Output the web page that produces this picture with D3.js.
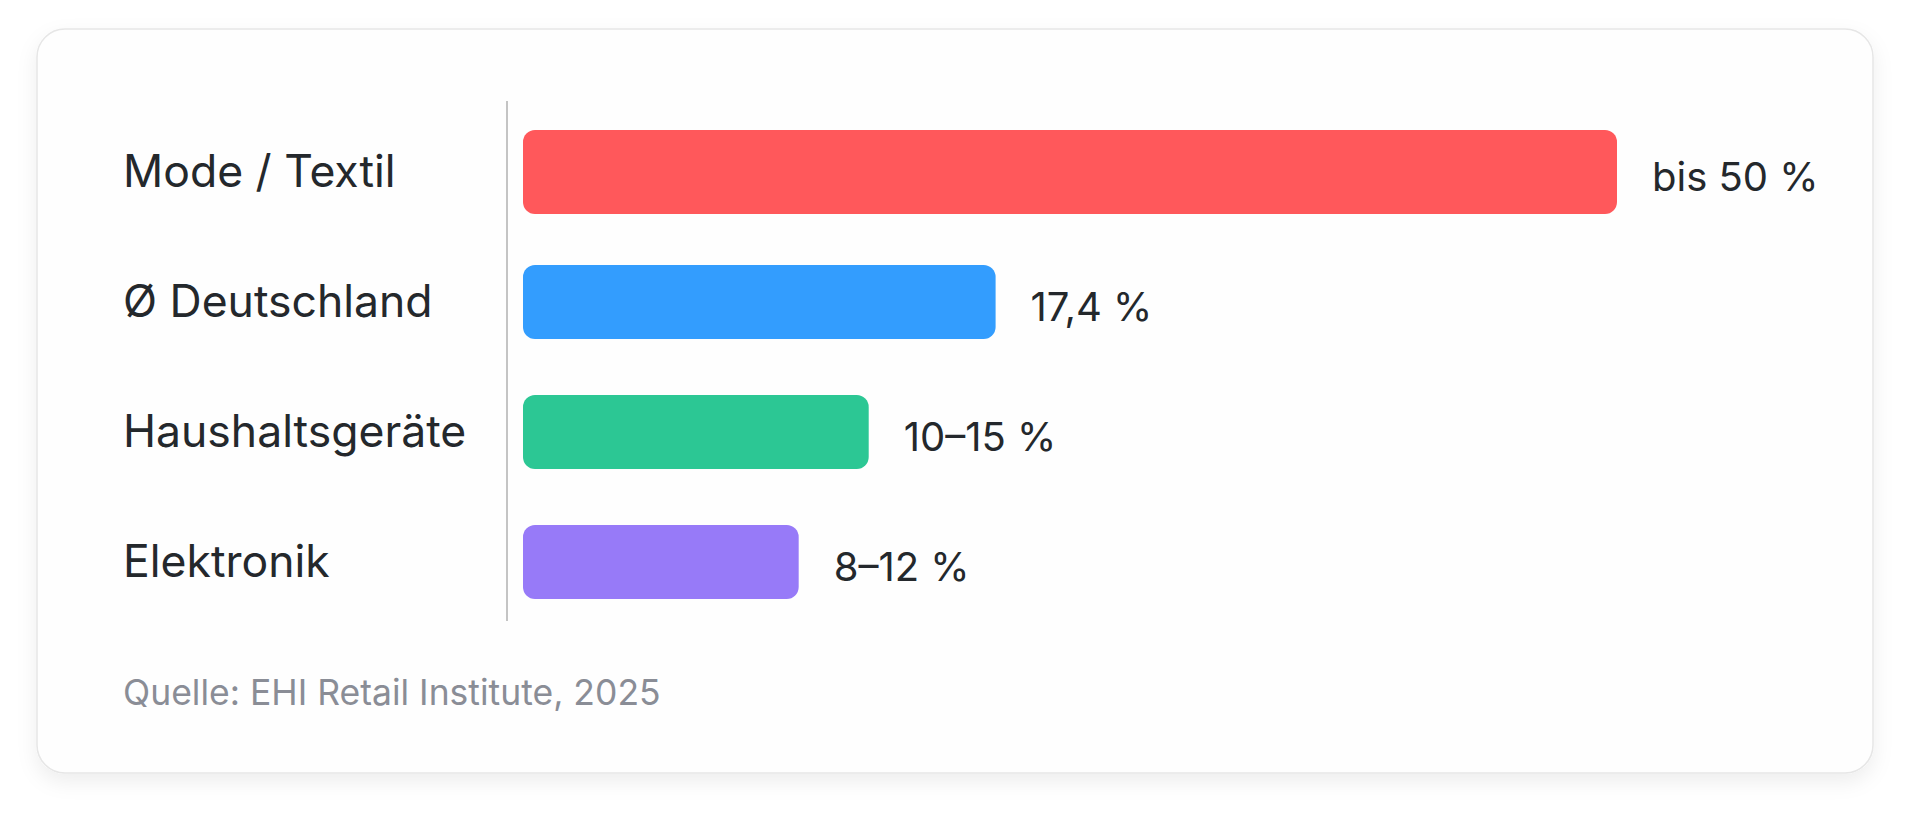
<!DOCTYPE html>
<head>
    <meta charset="utf-8">
    <title>Retourenquoten nach Branche</title>
    <style>
        html, body { margin: 0; padding: 0; background: #ffffff; }
        svg { display: block; font-family: Inter, "Noto Sans", sans-serif; }
    </style>
</head>
<body>

<svg width="1916" height="821"></svg>

<script src="https://cdn.jsdelivr.net/npm/d3@7"></script>

<script>

    // Categories, bar lengths and the printed labels
    const categories = ["Mode / Textil", "Ø Deutschland", "Haushaltsgeräte", "Elektronik"];
    const values = [50, 21.6, 15.8, 12.6];
    const valueLabels = ["bis 50 %", "17,4 %", "10–15 %", "8–12 %"];
    const colors = ["#ff585b", "#339dfe", "#2cc794", "#977af8"];
    const source = "Quelle: EHI Retail Institute, 2025";

    const svg = d3.select("svg");

    const defs = svg.append("defs");
    const shadow = defs.append("filter")
        .attr("id", "shadow")
        .attr("x", "-10%").attr("y", "-10%")
        .attr("width", "120%").attr("height", "130%");
    shadow.append("feDropShadow")
        .attr("dx", 0).attr("dy", 8)
        .attr("stdDeviation", 10)
        .attr("flood-color", "#000")
        .attr("flood-opacity", 0.07);

    // Card behind the chart
    svg.append("rect")
        .attr("x", 37).attr("y", 29)
        .attr("width", 1836).attr("height", 744)
        .attr("rx", 28)
        .attr("fill", "#fefefe")
        .attr("stroke", "#e6e6e6")
        .attr("stroke-width", 1.5)
        .attr("filter", "url(#shadow)");

    const x = d3.scaleLinear()
        .domain([0, 50])
        .range([523, 1617]);

    const y = d3.scaleBand()
        .domain(categories)
        .range([107, 627])
        .paddingInner(0.43)
        .paddingOuter(0.215);

    // first bar is drawn a bit thicker
    const extra = i => i === 0 ? 10 : 0;

    // vertical baseline
    svg.append("line")
        .attr("x1", 507).attr("x2", 507)
        .attr("y1", 101).attr("y2", 621)
        .attr("stroke", "#c4c4c4")
        .attr("stroke-width", 2);

    const row = svg.selectAll("g.row")
        .data(categories)
        .enter().append("g")
            .attr("class", "row");

    row.append("rect")
        .attr("x", x(0))
        .attr("y", (d, i) => y(d) - extra(i) / 2)
        .attr("width", (d, i) => x(values[i]) - x(0))
        .attr("height", (d, i) => y.bandwidth() + extra(i))
        .attr("rx", 12)
        .attr("fill", (d, i) => colors[i]);

    // category names on the left
    row.append("text")
        .attr("x", 123)
        .attr("y", d => y(d) + y.bandwidth() / 2 - 1)
        .attr("dy", "0.35em")
        .attr("font-size", 44.5)
        .attr("fill", "#24282c")
        .text(d => d);

    // value labels after each bar
    row.append("text")
        .attr("x", (d, i) => x(values[i]) + 35)
        .attr("y", d => y(d) + y.bandwidth() / 2 + 5)
        .attr("dy", "0.35em")
        .attr("font-size", 40)
        .attr("fill", "#24282c")
        .text((d, i) => valueLabels[i]);

    svg.append("text")
        .attr("x", 123)
        .attr("y", 693)
        .attr("dy", "0.35em")
        .attr("font-size", 35.5)
        .attr("fill", "#8a8d96")
        .text(source);

</script>

</body>
